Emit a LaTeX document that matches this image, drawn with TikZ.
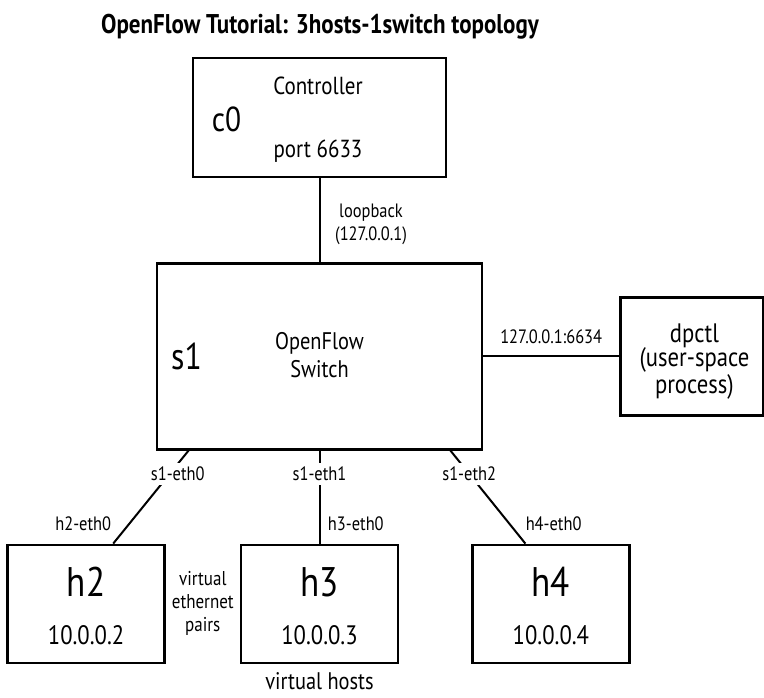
\documentclass[tikz,border=0pt]{standalone}
\usepackage{fontspec}
\setmainfont{PT Sans}[FakeStretch=0.85]
\usetikzlibrary{calc,positioning}
\tikzstyle{every node}+=[inner sep=0pt,font=\fontsize{18}{21}\selectfont]
\tikzstyle{every path}+=[line width=1.5pt]
\tikzstyle{devbox}=[draw,rectangle,line width=1.8pt]
\tikzstyle{hostbox}=[devbox,minimum width=117.75pt,minimum height=88.5pt]
\tikzstyle{ifname}=[font=\fontsize{14.5}{17}\selectfont]
\tikzstyle{gap}=[fill=white,inner sep=3pt]
\tikzstyle{devtag}=[anchor=base,font=\fontsize{26}{28}\selectfont]
\tikzstyle{hosttag}=[anchor=base,font=\fontsize{31}{34}\selectfont]

\begin{document}
\begin{tikzpicture}[x=0.75pt,y=-0.75pt]
\useasboundingbox (0,0) rectangle (764,698);

% controller, switch, dpctl
\node[devbox,minimum width=189.75pt,minimum height=89.25pt] (c0) at (319.5,117.5) {};
\node[devbox,minimum width=243.75pt,minimum height=139.5pt,below=63pt of c0] (s1) {};
\node[devbox,minimum width=107.25pt,minimum height=88.5pt,right=102pt of s1] (dp) {};

\node[anchor=base,font=\bfseries\fontsize{20.3}{23}\selectfont] (title) at ($(c0.north)+(0.5,-23)$) {OpenFlow Tutorial: 3hosts-1switch topology};

\node[devtag] (c0tag) at ($(c0.center)+(-93,14.5)$) {c0};
\node[anchor=base,font=\fontsize{18.5}{21}\selectfont] (c0name) at ($(c0.center)+(-1.5,-22.5)$) {Controller};
\node[anchor=base,font=\fontsize{18.5}{21}\selectfont] (c0port) at ($(c0.center)+(-1.5,40.5)$) {port 6633};

\node[devtag,font=\fontsize{28}{30}\selectfont] (s1tag) at ($(s1.center)+(-133,13)$) {s1};
\node[anchor=base] (s1name) at ($(s1.center)+(0,-7)$) {OpenFlow};
\node[anchor=base] (s1kind) at ($(s1.center)+(0,21)$) {Switch};

\node[align=center,font=\fontsize{20}{18.4}\selectfont] (dptxt) at ($(dp.center)+(2.5,5)$) {dpctl\\(user-space\\process)};

\draw (c0) -- node[right=11pt,yshift=-3pt,align=center,ifname] (lo) {loopback\\(127.0.0.1)} (s1);
\draw (s1) -- node[above=9pt,ifname] (lip) {127.0.0.1:6634} (dp);

% virtual hosts
\node[hostbox,below=69.75pt of s1] (h3) {};
\node[hostbox,left=55.5pt of h3] (h2) {};
\node[hostbox,right=54pt of h3] (h4) {};

\foreach \h/\ip in {h2/10.0.0.2,h3/10.0.0.3,h4/10.0.0.4}{
  \node[hosttag] (\h-tag) at ($(\h.center)+(0,-7)$) {\h};
  \node[anchor=base,font=\fontsize{20}{22}\selectfont] (\h-ip) at ($(\h.center)+(0,41)$) {\ip};
}

\coordinate (p0) at ($(s1.south west)!0.1!(s1.south east)$);
\coordinate (p2) at ($(s1.south west)!0.9!(s1.south east)$);
\coordinate (q0) at ($(h2.north west)!0.67!(h2.north east)$);
\coordinate (q2) at ($(h4.north west)!0.34!(h4.north east)$);

\draw (p0) -- node[pos=.25,gap,xshift=6pt,ifname] (e0) {s1-eth0}
  node[pos=.785,left=13pt,ifname] (h2e) {h2-eth0} (q0);
\draw (s1) -- node[pos=.25,gap,ifname] (e1) {s1-eth1}
  node[pos=.785,right=5.6pt,ifname] (h3e) {h3-eth0} (h3);
\draw (p2) -- node[pos=.25,gap,ifname] (e2) {s1-eth2}
  node[pos=.785,right=11.6pt,ifname] (h4e) {h4-eth0} (q2);

\node[align=center,font=\fontsize{15}{17.25}\selectfont] (vep) at ($(h2.east)!0.5!(h3.west)$) {virtual\\ethernet\\pairs};
\node[anchor=base] (vh) at ($(h3.south)+(0,25)$) {virtual hosts};
\end{tikzpicture}
\end{document}
